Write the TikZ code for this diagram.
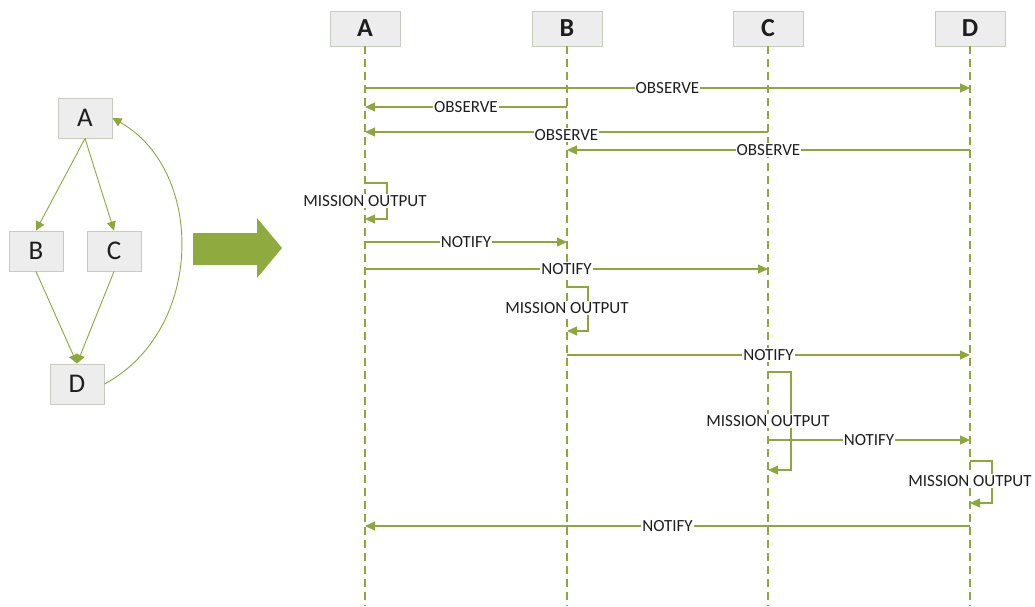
\documentclass[tikz,border=0pt]{standalone}
\usepackage{fontspec}
\setmainfont{Carlito}
\usetikzlibrary{arrows.meta}
\definecolor{ol}{HTML}{8CA83C}
\definecolor{olarrow}{HTML}{8FAA3E}
\definecolor{boxfill}{HTML}{EDEDED}
\definecolor{boxdraw}{HTML}{C6CDBE}
\definecolor{txt}{HTML}{1E1E1E}
\tikzset{
  hdr/.style={draw=boxdraw, fill=boxfill, line width=0.9pt, minimum width=70pt, minimum height=35pt, inner sep=0pt, font=\fontsize{26}{28}\selectfont\bfseries, text=txt},
  gbox/.style={draw=boxdraw, fill=boxfill, line width=0.9pt, minimum width=54pt, minimum height=40pt, inner sep=0pt, font=\fontsize{27}{29}\selectfont, text=txt},
  life/.style={draw=ol, line width=1.4pt, dash pattern=on 8pt off 5pt},
  msg/.style={draw=ol, line width=1.1pt, -{Triangle[length=10pt,width=9pt]}},
  lbl/.style={fill=white, inner sep=1pt, font=\fontsize{17}{19}\selectfont, text=txt},
  garr/.style={draw=ol, line width=0.9pt, -{Triangle[length=9pt,width=9pt]}}
}
\begin{document}
\begin{tikzpicture}[x=1pt,y=-1pt]
\useasboundingbox (0,0) rectangle (1035,606);
% headers
\node[hdr] (hA) at (365,28.5) {A};
\node[hdr] (hB) at (567,28.5) {B};
\node[hdr] (hC) at (768,28.5) {C};
\node[hdr] (hD) at (970,28.5) {D};
% lifeline ends
\coordinate (eA) at (365,606);
\coordinate (eB) at (567,606);
\coordinate (eC) at (768,606);
\coordinate (eD) at (970,606);
\draw[life] (hA.south) -- (eA);
\draw[life] (hB.south) -- (eB);
\draw[life] (hC.south) -- (eC);
\draw[life] (hD.south) -- (eD);
% messages
\draw[msg] (hA |- 0,88) -- node[lbl]{OBSERVE} (hD |- 0,88);
\draw[msg] (hB |- 0,107) -- node[lbl]{OBSERVE} (hA |- 0,107);
\draw[msg] (hC |- 0,132) -- node[lbl, yshift=-3pt]{OBSERVE} (hA |- 0,132);
\draw[msg] (hD |- 0,150) -- node[lbl]{OBSERVE} (hB |- 0,150);
% A self
\draw[msg] (hA |- 0,183) -- (387,183) -- (387,219) -- (hA |- 0,219);
\node[lbl] (mA) at (365,201) {MISSION OUTPUT};
\draw[msg] (hA |- 0,242) -- node[lbl]{NOTIFY} (hB |- 0,242);
\draw[msg] (hA |- 0,269) -- node[lbl]{NOTIFY} (hC |- 0,269);
% B self
\draw[msg] (hB |- 0,287) -- (588,287) -- (588,331) -- (hB |- 0,331);
\node[lbl] (mB) at (567,308) {MISSION OUTPUT};
\draw[msg] (hB |- 0,355) -- node[lbl]{NOTIFY} (hD |- 0,355);
% C self
\draw[msg] (hC |- 0,372) -- (791,372) -- (791,470) -- (hC |- 0,470);
\draw[msg] (hC |- 0,440) -- node[lbl]{NOTIFY} (hD |- 0,440);
\node[lbl] (mC) at (768,421) {MISSION OUTPUT};
% D self
\draw[msg] (hD |- 0,461) -- (992,461) -- (992,503) -- (hD |- 0,503);
\node[lbl] (mD) at (970,481) {MISSION OUTPUT};
\draw[msg] (hD |- 0,526) -- node[lbl]{NOTIFY} (hA |- 0,526);
% big arrow
\fill[olarrow] (193,233) -- (257,233) -- (257,218) -- (282,248) -- (257,278) -- (257,265) -- (193,265) -- cycle;
% left graph
\node[gbox] (gA) at (85,118) {A};
\node[gbox] (gB) at (36,251) {B};
\node[gbox] (gC) at (114,251) {C};
\node[gbox] (gD) at (77,384) {D};
\draw[garr] (gA.south) -- (gB.north);
\draw[garr] (gA.south) -- (gC.north);
\draw[garr] (gB.south) -- (gD.north);
\draw[garr] (gC.south) -- (gD.north);
\draw[garr] (gD.east) .. controls (205,330) and (205,170) .. (gA.east);
\end{tikzpicture}
\end{document}
